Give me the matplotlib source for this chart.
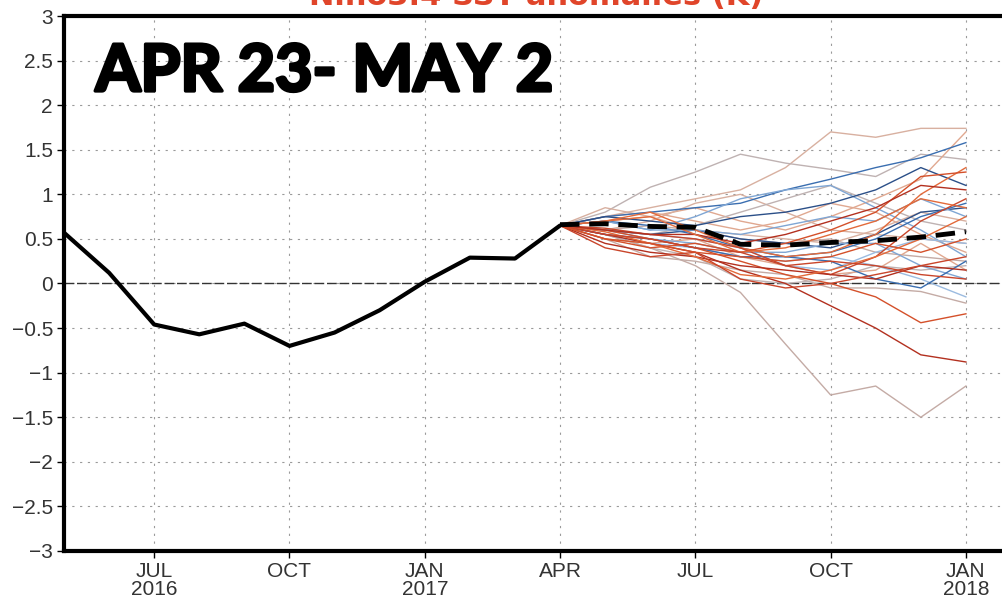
import matplotlib
matplotlib.use("Agg")
import matplotlib.pyplot as plt
import matplotlib.patheffects as pe

# month index: 0 = May 2016
obs_months = list(range(0, 12))
obs_vals = [0.57, 0.12, -0.46, -0.57, -0.45, -0.70, -0.55, -0.30, 0.02, 0.29, 0.28, 0.65]

fc_months = list(range(11, 21))  # Apr 2017 .. Jan 2018
fc_mean = [0.66, 0.67, 0.64, 0.63, 0.44, 0.43, 0.46, 0.48, 0.52, 0.58]

reds = [
    [.65, .55, .45, .35, .15, .00, -.25, -.50, -.80, -.88],
    [.65, .60, .50, .40, .25, .10, .00, -.15, -.44, -.34],
    [.65, .70, .80, .60, .40, .30, .35, .55, 1.00, 1.30],
    [.65, .62, .55, .50, .40, .20, .10, .30, .70, .95],
    [.65, .45, .35, .30, .20, .15, .10, .05, .20, .15],
    [.65, .50, .40, .45, .35, .45, .60, .80, 1.20, 1.25],
    [.65, .58, .45, .30, .10, .05, .15, .30, .50, .75],
    [.65, .40, .30, .35, .05, -.05, .00, .10, .20, .30],
    [.65, .60, .55, .55, .45, .55, .70, .85, 1.10, 1.05],
    [.65, .50, .45, .35, .30, .25, .30, .45, .35, .50],
    [.65, .70, .75, .55, .35, .40, .55, .70, .95, .85],
    [.65, .55, .50, .40, .35, .20, .25, .20, .10, .05],
]
greys = [
    [.65, .55, .40, .20, -.10, -.68, -1.25, -1.15, -1.50, -1.15],
    [.65, .75, .85, .95, 1.05, 1.30, 1.70, 1.64, 1.74, 1.74],
    [.65, .80, 1.08, 1.25, 1.45, 1.35, 1.28, 1.20, 1.45, 1.39],
    [.65, .70, .75, .85, .70, .60, .75, .95, 1.17, 1.70],
    [.65, .50, .30, .25, .15, .10, -.05, -.05, -.09, -.22],
    [.65, .60, .70, .90, 1.00, .80, .60, .55, .50, .45],
    [.65, .55, .40, .30, .05, .00, .05, .20, .15, .20],
    [.65, .75, .80, .70, .60, .70, .90, .80, .55, .35],
    [.65, .60, .65, .60, .50, .45, .50, .35, .30, .25],
    [.65, .85, .75, .60, .55, .50, .45, .60, .80, .70],
    [.65, .60, .55, .65, .80, .95, 1.10, .90, .70, .60],
    [.65, .50, .45, .50, .30, .20, .10, .15, .45, .15],
]
blues = [
    [.65, .75, .80, .85, .90, 1.05, 1.17, 1.30, 1.41, 1.58],
    [.65, .70, .60, .75, .95, 1.05, 1.10, .85, .60, .30],
    [.65, .60, .55, .60, .50, .45, .40, .55, .80, .85],
    [.65, .55, .45, .40, .30, .25, .30, .20, .05, -.15],
    [.65, .70, .65, .55, .40, .30, .35, .50, .75, .90],
    [.65, .60, .50, .45, .35, .35, .45, .45, .20, .05],
    [.65, .75, .70, .65, .75, .80, .90, 1.05, 1.30, 1.10],
    [.65, .60, .55, .50, .40, .20, .15, .35, .50, .45],
    [.65, .55, .50, .40, .30, .30, .25, .05, -.05, .25],
    [.65, .70, .60, .60, .55, .65, .75, .70, .95, .75],
]
red_cols = ['#b3301f', '#d4502a', '#e36a3a', '#c9452a']
grey_cols = ['#c4aba5', '#d8b0a0', '#bfb2b2', '#e0a890']
blue_cols = ['#3a6eb0', '#7fa6d4', '#2b4f88', '#9bbbe0']

tick_pos = [2, 5, 8, 11, 14, 17, 20]
tick_lab = ['JUL\n2016', 'OCT', 'JAN\n2017', 'APR', 'JUL', 'OCT', 'JAN\n2018']
ytick_pos = [-3, -2.5, -2, -1.5, -1, -0.5, 0, 0.5, 1, 1.5, 2, 2.5, 3]
ytick_lab = ['\u22123', '\u22122.5', '\u22122', '\u22121.5', '\u22121', '\u22120.5',
             '0', '0.5', '1', '1.5', '2', '2.5', '3']

fig = plt.figure(figsize=(10.03, 6.02), dpi=100)
ax = fig.add_axes([64/1003, 1 - 551/602, 947/1003, 535/602])
ax.set_xlim(0, 21)
ax.set_ylim(-3, 3)

for i, m in enumerate(greys):
    ax.plot(fc_months, m, color=grey_cols[i % 4], lw=1.0, zorder=2)
for i, m in enumerate(blues):
    ax.plot(fc_months, m, color=blue_cols[i % 4], lw=1.0, zorder=3)
for i, m in enumerate(reds):
    ax.plot(fc_months, m, color=red_cols[i % 4], lw=1.0, zorder=3)

ax.axhline(0, color='#333333', lw=1.0, dashes=(7, 2), zorder=1)
ax.plot(obs_months, obs_vals, color='black', lw=3.0, zorder=5, solid_capstyle='round')
ax.plot(fc_months, fc_mean, color='black', lw=3.5, dashes=(4, 2), zorder=6)

ax.set_xticks(tick_pos)
ax.set_xticklabels(tick_lab)
ax.set_yticks(ytick_pos)
ax.set_yticklabels(ytick_lab)
ax.grid(True, color='#9a9a9a', lw=0.8, dashes=(2, 5))
ax.set_axisbelow(True)
ax.tick_params(axis='both', direction='out', length=5, width=1, color='black',
               labelsize=15, labelcolor='#333333', pad=3)
for lab in ax.get_xticklabels() + ax.get_yticklabels():
    lab.set_family(['Liberation Sans', 'DejaVu Sans'])
    lab.set_linespacing(0.95)

ax.spines['left'].set_linewidth(3)
ax.spines['bottom'].set_linewidth(3)
ax.spines['top'].set_linewidth(3)
ax.spines['right'].set_visible(False)

ax.text(0.70, 2.16, 'APR 23- MAY 2', fontsize=46.5, fontweight='bold',
        family=['Lato', 'Liberation Sans', 'DejaVu Sans'], color='black',
        va='baseline', zorder=8,
        path_effects=[pe.Stroke(linewidth=2.5, foreground='black', joinstyle='round'),
                      pe.Normal()])

fig.text(0.535, 0.992, 'Nino3.4 SST anomalies (K)', color='#e0452a', fontsize=22,
         fontweight='bold', ha='center', va='baseline')

fig.savefig('out.png', dpi=100)
